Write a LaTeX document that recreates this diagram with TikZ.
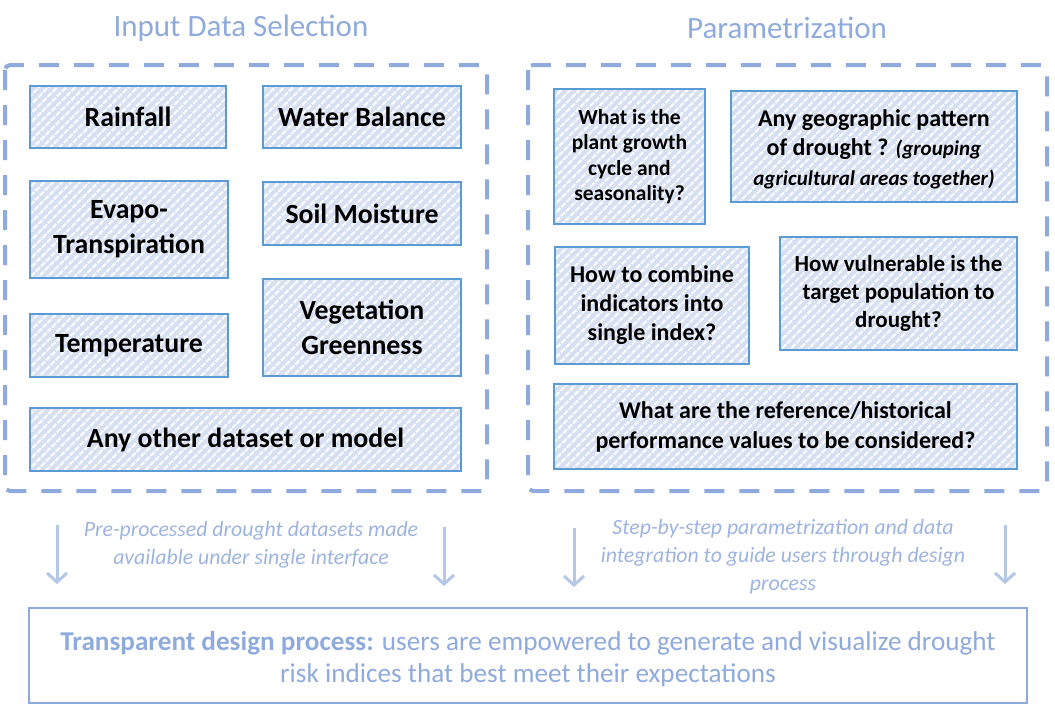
\documentclass[tikz,border=0pt]{standalone}
\usepackage{fontspec}
\setmainfont{Carlito}
\usetikzlibrary{patterns.meta,arrows.meta}
\definecolor{framecol}{HTML}{8FAADC}
\definecolor{boxline}{HTML}{5B9BD5}
\definecolor{hatchbg}{HTML}{D6E0F2}
\definecolor{notecol}{HTML}{9DB3E0}
\definecolor{arrowcol}{HTML}{B4C7E7}
\tikzset{
  hatchbox/.style={draw=boxline, line width=1.5pt, preaction={fill=hatchbg},
    pattern={Lines[angle=45,distance=6.4pt,line width=2.4pt]}, pattern color=white,
    align=center, inner sep=0pt, text=black},
  dashframe/.style={draw=framecol, line width=4pt, dash pattern=on 20pt off 15pt, rounded corners=5pt},
  downarrow/.style={draw=arrowcol, line width=3pt, -{Straight Barb[length=9pt,width=20pt]}},
  notetext/.style={text=notecol, align=center, inner sep=0pt, font=\fontsize{21.8}{28}\selectfont\itshape},
  titletext/.style={text=framecol, inner sep=0pt, font=\fontsize{31}{36}\selectfont},
  bigfont/.style={font=\fontsize{27.8}{35}\selectfont\bfseries}
}
\begin{document}
\begin{tikzpicture}[x=1pt,y=1pt,yscale=-1,xscale=1]
  \useasboundingbox (0,0) rectangle (1055,712);
  % Titles
  \node[titletext] (inputtitle) at (241,28) {Input Data Selection};
  \node[titletext] (paramtitle) at (787,28) {Parametrization};
  % Dashed frames
  \draw[dashframe] (5,65) rectangle (487,491);
  \draw[dashframe] (528,65) rectangle (1047,491);
  % Input data boxes
  \node[hatchbox, bigfont, minimum width=196, minimum height=62] (rainfall) at (128,117) {Rainfall};
  \node[hatchbox, bigfont, minimum width=198, minimum height=62] (waterbal) at (362,117) {Water Balance};
  \node[hatchbox, bigfont, minimum width=198, minimum height=97] (evapo) at (129,229.5) {Evapo-\\Transpiration};
  \node[hatchbox, bigfont, minimum width=198, minimum height=63] (soilmoist) at (362,213.5) {Soil Moisture};
  \node[hatchbox, bigfont, minimum width=198, minimum height=63] (temper) at (129,345.5) {Temperature};
  \node[hatchbox, bigfont, minimum width=198, minimum height=97] (vegetation) at (362,327.5) {Vegetation\\Greenness};
  \node[hatchbox, bigfont, minimum width=431, minimum height=63] (otherdata) at (245.5,439.5) {Any other dataset or model};
  % Parametrization boxes
  \node[hatchbox, font=\fontsize{21.5}{25.5}\selectfont\bfseries, minimum width=151, minimum height=135] (growth) at (629.5,156.5)
    {What is the\\plant growth\\cycle and\\seasonality?};
  \node[hatchbox, font=\fontsize{24}{29.5}\selectfont\bfseries, minimum width=286, minimum height=111] (geopattern) at (874,146.5)
    {\rule{0pt}{22pt}Any geographic pattern\\of drought ? {\fontsize{21}{29.5}\selectfont\itshape(grouping}\\{\fontsize{21}{29.5}\selectfont\itshape agricultural areas together)}};
  \node[hatchbox, font=\fontsize{24}{29}\selectfont\bfseries, minimum width=194, minimum height=117] (combine) at (652,305.5)
    {How to combine\\indicators into\\single index?};
  \node[hatchbox, font=\fontsize{23}{27.7}\selectfont\bfseries, minimum width=237, minimum height=113] (vulnerable) at (898.5,293.5)
    {How vulnerable is the\\target population to\\drought?};
  \node[hatchbox, font=\fontsize{24}{30}\selectfont\bfseries, minimum width=463, minimum height=85] (reference) at (785.5,426.5)
    {What are the reference/historical\\performance values to be considered?};
  % Notes between frames and result
  \node[notetext] (inputnote) at (251,545) {Pre-processed drought datasets made\\available under single interface};
  \node[notetext] (paramnote) at (783,557) {Step-by-step parametrization and data\\integration to guide users through design\\process};
  % Result box
  \node[draw=framecol, line width=2pt, minimum width=998, minimum height=95, align=center, text=framecol,
    font=\fontsize{27.2}{32.5}\selectfont] (result) at (528,655.5)
    {\rule{0pt}{26pt}\textbf{Transparent design process:} users are empowered to generate and visualize drought\\risk indices that best meet their expectations};
  % Arrows
  \coordinate (la1) at (57,525);  \coordinate (lb1) at (57,584);
  \coordinate (la2) at (444,527); \coordinate (lb2) at (444,586);
  \coordinate (ra1) at (574,528); \coordinate (rb1) at (574,587);
  \coordinate (ra2) at (1005,525); \coordinate (rb2) at (1005,584);
  \draw[downarrow] (la1) -- (lb1);
  \draw[downarrow] (la2) -- (lb2);
  \draw[downarrow] (ra1) -- (rb1);
  \draw[downarrow] (ra2) -- (rb2);
\end{tikzpicture}
\end{document}
